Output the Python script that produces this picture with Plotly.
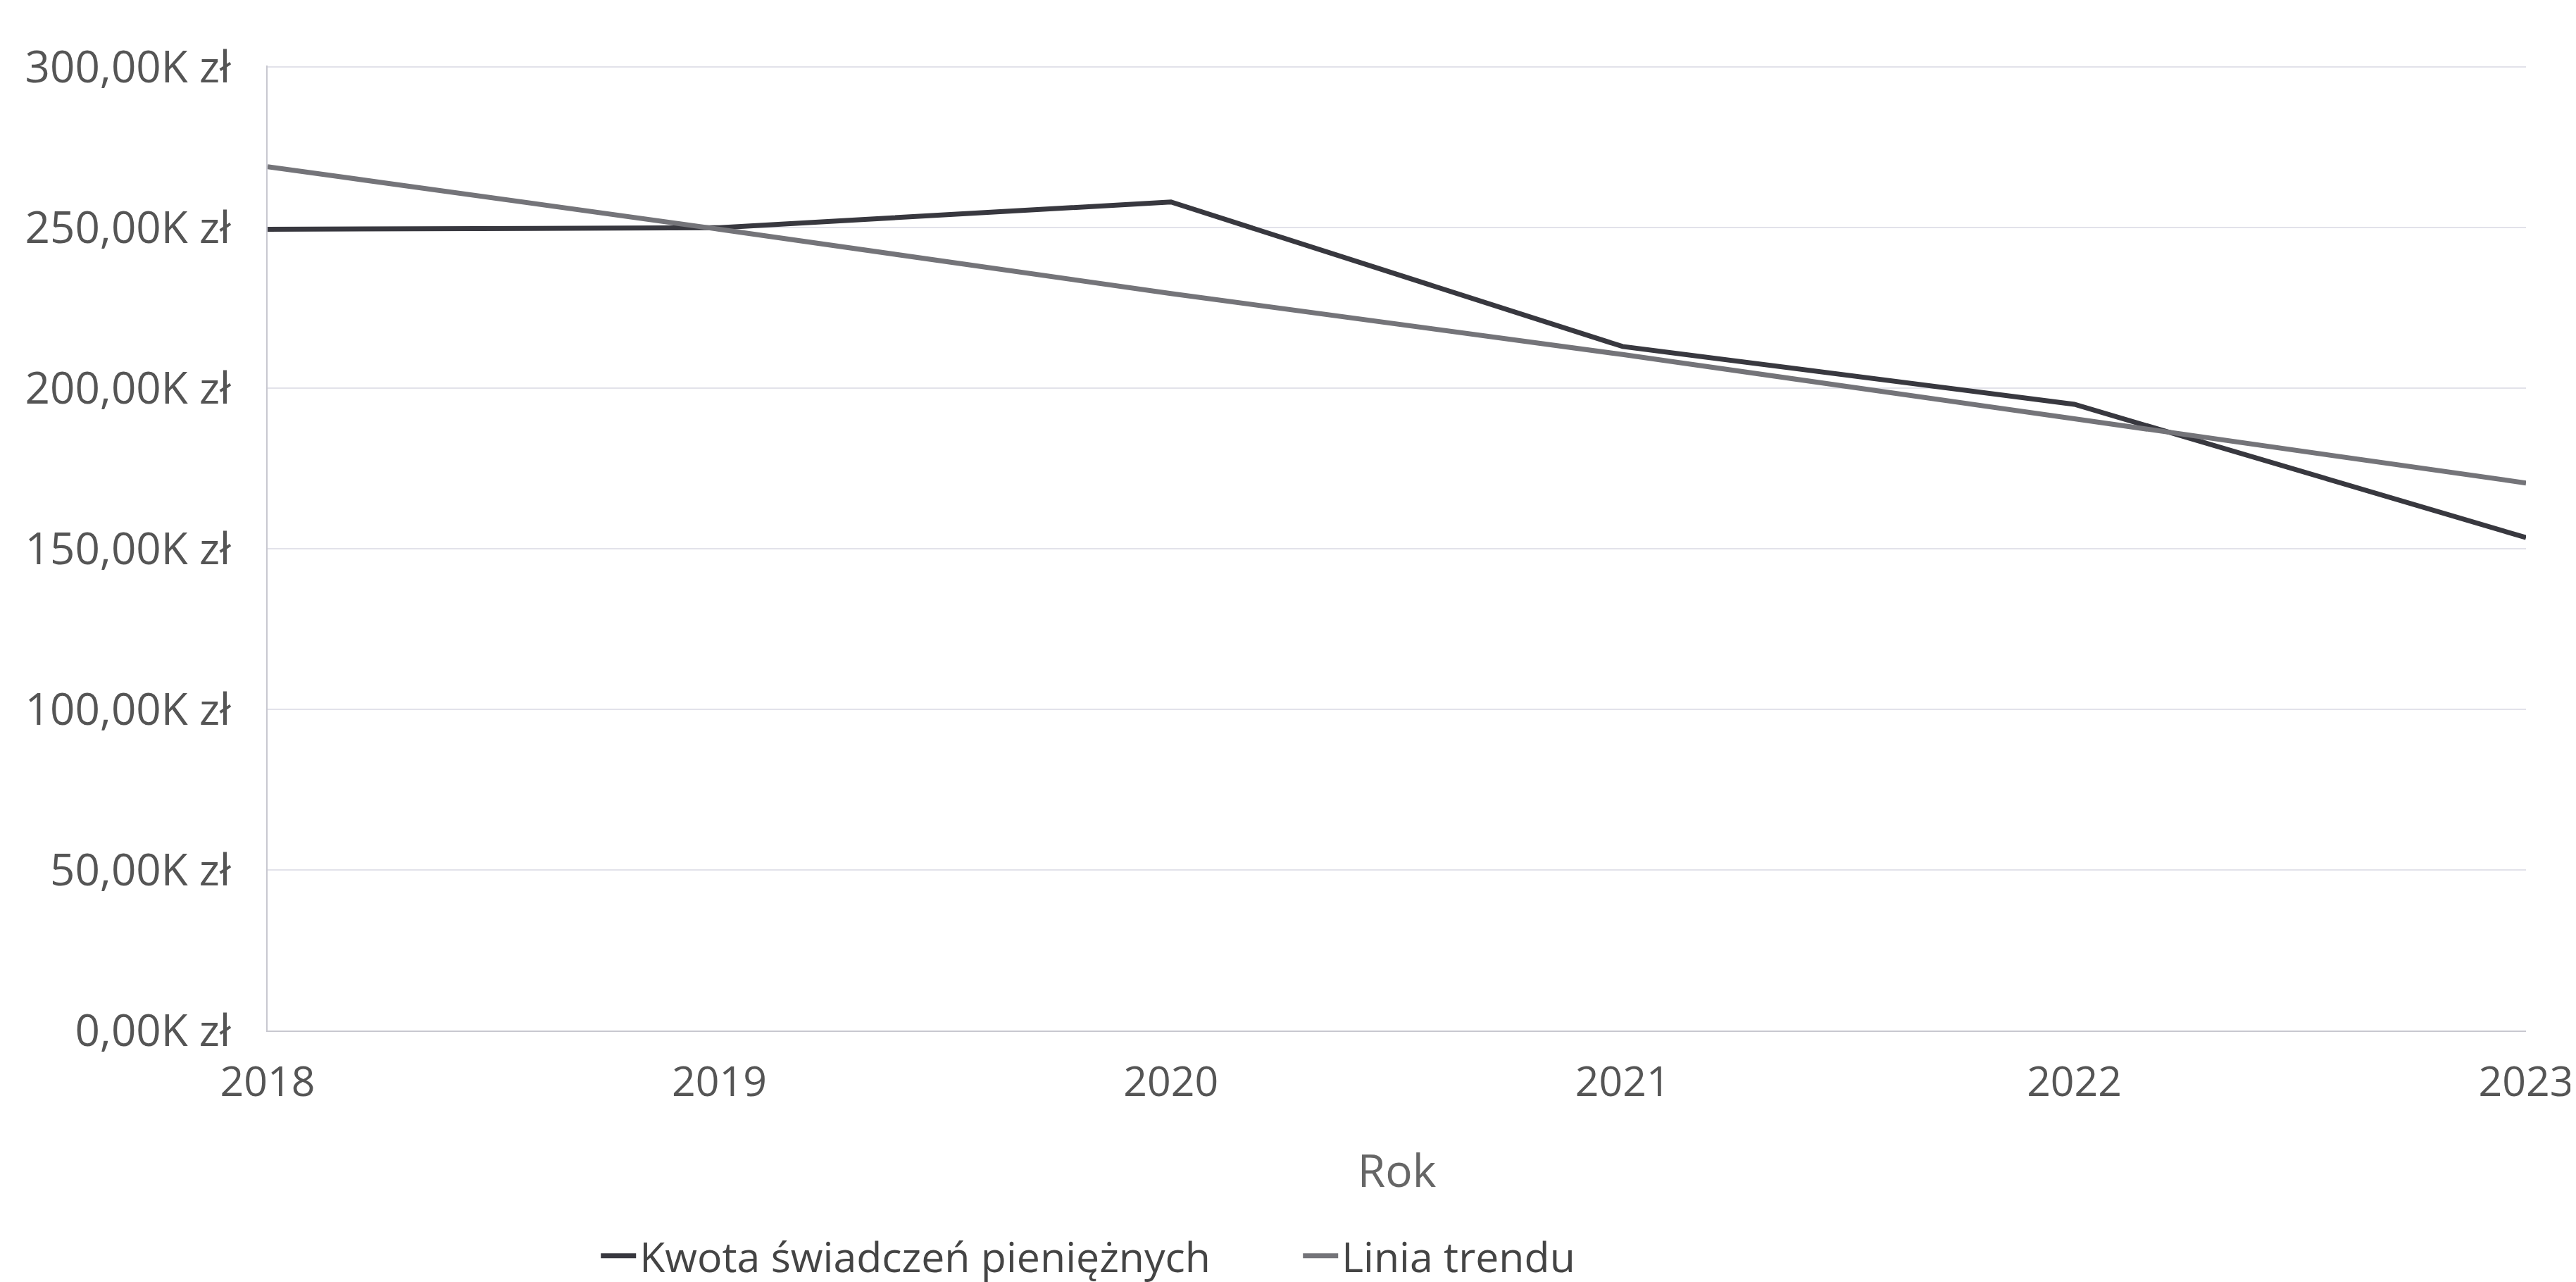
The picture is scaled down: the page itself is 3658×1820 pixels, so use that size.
import plotly.graph_objects as go

years = [2018, 2019, 2020, 2021, 2022, 2023]
kwota = [249500, 250000, 258000, 213000, 195000, 153500]
trend = [269000, 249500, 229500, 210500, 190500, 170500]
ytick_vals = [0, 50000, 100000, 150000, 200000, 250000, 300000]
ytick_text = ["0,00K zł", "50,00K zł", "100,00K zł", "150,00K zł", "200,00K zł", "250,00K zł", "300,00K zł"]

FONT = "Open Sans"

fig = go.Figure()
fig.add_trace(go.Scatter(x=years, y=kwota, mode="lines", name="Kwota świadczeń pieniężnych",
                         line=dict(color="#38383f", width=7)))
fig.add_trace(go.Scatter(x=years, y=trend, mode="lines", name="Linia trendu",
                         line=dict(color="#747479", width=7)))

fig.update_layout(
    width=3658, height=1820,
    paper_bgcolor="white", plot_bgcolor="white",
    margin=dict(l=372, r=65, t=85, b=365),
    font=dict(family=FONT, size=62, color="#555555"),
    showlegend=True,
    legend=dict(orientation="h", x=0.146, xanchor="left", yref="container", y=0.0, yanchor="bottom",
                font=dict(size=59, color="#444444"), itemwidth=50, traceorder="normal",
                entrywidth=932, entrywidthmode="pixels"),
)
fig.update_xaxes(
    range=[2018, 2023], tickvals=years, ticktext=[str(y) for y in years],
    showgrid=False, zeroline=False, showline=True, linecolor="#c8c8d0", linewidth=2,
    ticks="", ticklabelstandoff=20, ticklabeloverflow="allow",
    tickfont=dict(size=59),
    title=dict(text="Rok", font=dict(size=64, color="#666666"), standoff=68),
)
fig.update_yaxes(
    range=[0, 300500], tickvals=ytick_vals, ticktext=ytick_text,
    showgrid=True, gridcolor="#e2e2ea", gridwidth=2, zeroline=False,
    showline=True, linecolor="#c8c8d0", linewidth=2,
    ticks="", ticklabelstandoff=38,
)

fig.write_html("out.html")
